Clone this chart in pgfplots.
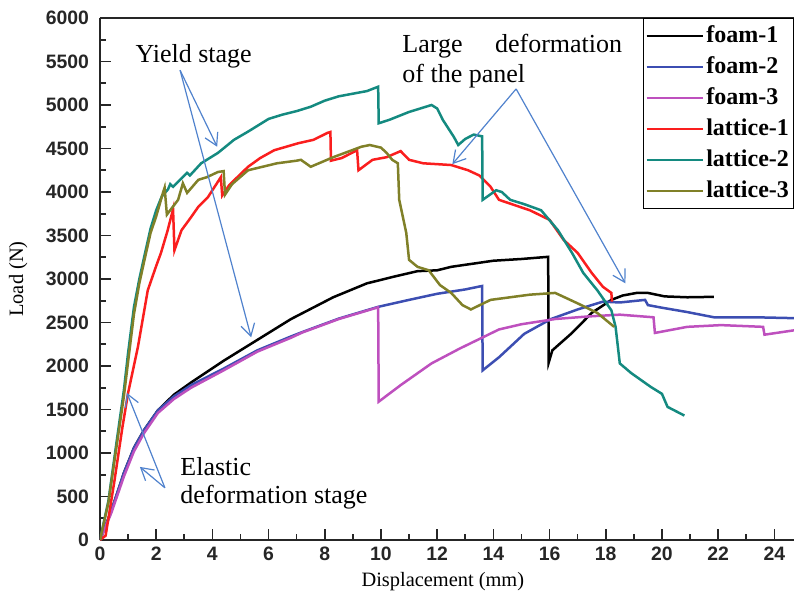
\documentclass[border=0pt]{standalone}
\usepackage{fontspec}
\setmainfont{Liberation Serif}
\newfontfamily\ticksans{Liberation Sans}
\usepackage{pgfplots}
\pgfplotsset{compat=1.18}
\usetikzlibrary{arrows.meta}

\definecolor{cfoamB}{RGB}{60,78,178}
\definecolor{cfoamC}{RGB}{190,80,190}
\definecolor{clatA}{RGB}{250,30,30}
\definecolor{clatB}{RGB}{20,138,128}
\definecolor{clatC}{RGB}{128,128,40}
\definecolor{carrow}{RGB}{80,130,205}

\begin{document}
\begin{tikzpicture}
\begin{axis}[
  name=ax,
  scale only axis,
  width=347pt, height=261pt,
  xmin=0, xmax=24.7, ymin=0, ymax=6000,
  axis x line*=box, axis y line*=left,
  xtick pos=bottom,
  axis line style={line width=0.8pt, black!85},
  tick style={line width=0.8pt, black!85},
  tick align=inside,
  major tick length=5.5pt, minor tick length=2.8pt,
  xtick={0,2,...,24}, ytick={0,500,...,6000},
  minor x tick num=1, minor y tick num=1,
  scaled y ticks=false,
  /pgf/number format/set thousands separator={},
  /pgf/number format/assume math mode=true,
  tick label style={font=\ticksans\bfseries\fontsize{9.7}{10}\selectfont, black!85},
  yticklabel style={xshift=-2pt},
  xlabel={Displacement (mm)}, ylabel={Load (N)},
  label style={font=\fontsize{10.2}{11}\selectfont},
  xlabel style={at={(axis description cs:0.494,-0.08)}, anchor=center},
  ylabel style={at={(axis description cs:-0.118,0.5)}, anchor=center},
  clip mode=individual,
  legend cell align=left,
  legend style={at={(rel axis cs:0.782,1)}, anchor=north west, draw=black, line width=0.7pt,
    inner xsep=1pt, inner ysep=1.5pt, row sep=1pt,
    font=\bfseries\fontsize{12}{12}\selectfont,
    nodes={inner xsep=1.2pt, inner ysep=1pt, text height=9.5pt, text depth=3pt}},
  legend image code/.code={\draw[#1] (0pt,0pt) -- (28pt,0pt);},
]
\addplot[black, line width=1.25pt] coordinates {
(0,0)(0.4,330)(0.85,770)(1.21,1060)(1.57,1264)(2.06,1490)(2.63,1670)(3.24,1810)
(4.4,2060)(5.4,2260)(6.8,2540)(8.3,2790)(9.5,2950)(10.5,3030)(11.3,3090)(12.0,3100)
(12.5,3140)(14.0,3210)(15.0,3230)(15.95,3255)(15.97,2040)(16.1,2180)(16.8,2380)
(17.5,2610)(18.2,2760)(18.6,2810)(19.1,2840)(19.5,2840)(20.1,2800)(20.9,2790)(21.85,2795)};
\addlegendentry{foam-1}
\addplot[cfoamB, line width=1.25pt] coordinates {
(0,0)(0.4,330)(0.85,770)(1.21,1060)(1.57,1264)(2.06,1490)(2.63,1650)(3.24,1780)
(4.4,1970)(5.6,2180)(6.8,2340)(7.2,2390)(8.5,2545)(9.9,2680)(11.0,2760)(12.0,2830)
(13.0,2880)(13.6,2920)(13.62,1950)(14.2,2100)(15.1,2370)(16.05,2540)(17.0,2650)
(17.9,2740)(18.5,2730)(19.4,2760)(19.5,2700)(20.0,2670)(20.9,2620)(21.85,2560)
(23.3,2560)(24.7,2550)};
\addlegendentry{foam-2}
\addplot[cfoamC, line width=1.25pt] coordinates {
(0,0)(0.4,310)(0.85,730)(1.21,1020)(1.57,1230)(2.06,1460)(2.63,1620)(3.24,1750)
(4.4,1950)(5.6,2165)(6.8,2325)(7.2,2385)(8.5,2540)(9.9,2675)(9.92,1590)(10.7,1780)
(11.8,2030)(12.8,2200)(14.2,2420)(15.0,2480)(16.2,2540)(17.4,2570)(18.5,2590)
(19.7,2560)(19.75,2380)(20.9,2450)(22.1,2470)(23.6,2450)(23.65,2360)(24.7,2410)};
\addlegendentry{foam-3}
\addplot[clatA, line width=1.25pt] coordinates {
(0,0)(0.2,50)(0.5,650)(0.8,1300)(1.0,1690)(1.35,2220)(1.7,2870)(2.0,3150)(2.17,3300)
(2.4,3550)(2.6,3800)(2.65,3330)(2.9,3560)(3.24,3710)(3.5,3830)(3.84,3940)(4.1,4070)
(4.3,4170)(4.35,3960)(4.6,4080)(5.27,4290)(5.7,4390)(6.2,4480)(7.05,4560)(7.6,4600)
(8.1,4680)(8.2,4690)(8.22,4360)(8.6,4390)(9.15,4480)(9.2,4250)(9.7,4370)(10.2,4400)
(10.7,4470)(11.0,4370)(11.5,4330)(12.5,4310)(13.1,4250)(13.5,4190)(13.9,4060)
(14.2,3910)(15.3,3790)(16.0,3680)(16.5,3450)(17.0,3300)(17.5,3070)(17.9,2910)
(18.2,2840)(18.22,2740)};
\addlegendentry{lattice-1}
\addplot[clatB, line width=1.25pt] coordinates {
(0,0)(0.3,450)(0.6,1150)(0.85,1720)(1.0,2150)(1.21,2680)(1.4,3000)(1.57,3250)
(1.8,3580)(2.0,3790)(2.2,3950)(2.42,4030)(2.5,4090)(2.6,4060)(3.1,4220)(3.2,4190)
(3.6,4330)(4.2,4450)(4.77,4600)(5.3,4700)(6.0,4840)(6.5,4890)(7.0,4930)(7.5,4980)
(8.0,5050)(8.5,5100)(9.0,5130)(9.5,5160)(9.9,5210)(9.92,4790)(10.3,4830)(11.0,4920)
(11.8,5000)(12.0,4960)(12.2,4830)(12.6,4630)(12.75,4540)(13.0,4610)(13.3,4660)
(13.6,4640)(13.62,3910)(14.1,4020)(14.3,4000)(14.6,3910)(15.1,3860)(15.7,3790)
(16.3,3560)(16.8,3300)(17.2,3070)(17.7,2870)(18.2,2640)(18.35,2450)(18.5,2030)
(18.9,1920)(19.6,1760)(20.0,1680)(20.2,1530)(20.8,1430)};
\addlegendentry{lattice-2}
\addplot[clatC, line width=1.25pt] coordinates {
(0,0)(0.3,430)(0.6,1100)(0.85,1650)(1.0,2050)(1.21,2600)(1.4,2950)(1.57,3200)
(1.8,3530)(2.0,3720)(2.24,3990)(2.3,4050)(2.38,3740)(2.78,3910)(2.95,4100)(3.1,3990)
(3.5,4140)(3.8,4170)(4.2,4230)(4.4,4240)(4.45,3970)(4.7,4090)(5.27,4250)(6.3,4330)
(7.0,4360)(7.15,4370)(7.5,4290)(8.3,4400)(9.3,4520)(9.6,4540)(10.0,4510)(10.2,4450)
(10.4,4370)(10.6,4330)(10.65,3910)(10.9,3530)(11.0,3220)(11.3,3140)(11.7,3100)
(12.1,2930)(12.5,2840)(12.9,2700)(13.2,2650)(13.9,2760)(15.3,2820)(16.2,2840)
(17.0,2720)(17.7,2610)(18.3,2450)};
\addlegendentry{lattice-3}

\node[anchor=base west, font=\fontsize{13}{14}\selectfont, inner sep=0pt] at (axis cs:1.25,5483) {Yield stage};
\node[anchor=base west, font=\fontsize{13}{14}\selectfont, inner sep=0pt] at (axis cs:10.75,5609) {Large\quad\ deformation};
\node[anchor=base west, font=\fontsize{13}{14}\selectfont, inner sep=0pt] at (axis cs:10.75,5264) {of the panel};
\node[anchor=base west, font=\fontsize{13}{14}\selectfont, inner sep=0pt] at (axis cs:2.85,747) {Elastic};
\node[anchor=base west, font=\fontsize{13}{14}\selectfont, inner sep=0pt] at (axis cs:2.85,425) {deformation stage};

\begin{scope}[carrow, line width=0.6pt, -{Straight Barb[length=6pt,width=7pt]}]
\draw (axis cs:2.85,5400) -- (axis cs:4.17,4520);
\draw (axis cs:2.85,5400) -- (axis cs:5.38,2330);
\draw (axis cs:14.81,5185) -- (axis cs:12.54,4320);
\draw (axis cs:14.81,5185) -- (axis cs:18.7,2950);
\draw (axis cs:2.31,600) -- (axis cs:0.96,1690);
\draw (axis cs:2.31,600) -- (axis cs:1.42,840);
\end{scope}
\end{axis}
\pgfresetboundingbox
\path[use as bounding box] ([shift={(-50pt,-30.5pt)}]ax.south west) rectangle ([shift={(0pt,9pt)}]ax.north east);
\end{tikzpicture}
\end{document}
